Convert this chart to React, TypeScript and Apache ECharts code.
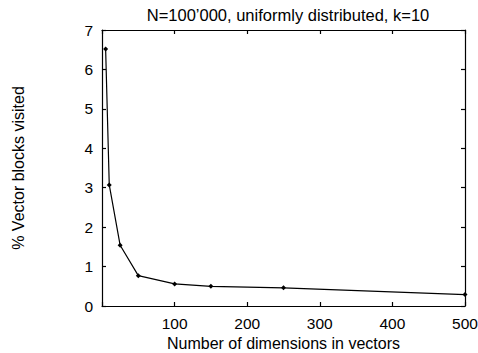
import React, { useEffect, useRef } from "react";
import * as echarts from "echarts";

const dimensions = [5, 10, 25, 50, 100, 150, 250, 500];
const percentVisited = [6.52, 3.07, 1.54, 0.77, 0.56, 0.5, 0.46, 0.29];
const titleText = "N=100\u2019000, uniformly distributed, k=10";
const xName = "Number of dimensions in vectors";
const yName = "% Vector blocks visited";

export default function App() {
  const ref = useRef<HTMLDivElement>(null);
  useEffect(() => {
    if (!ref.current) return;
    const chart = echarts.init(ref.current, null, { renderer: "svg" });
    const font = "Liberation Sans, Arial, Helvetica, sans-serif";
    const lineStyle = { color: "#000", width: 1.2 };
    chart.setOption({
      animation: false,
      backgroundColor: "#fff",
      title: {
        text: titleText,
        left: 283,
        textAlign: "center",
        top: 1,
        textStyle: { fontFamily: font, fontSize: 16.5, fontWeight: "normal", color: "#000" },
      },
      grid: {
        left: 102,
        right: 13,
        top: 30,
        bottom: 47,
        show: false,
        containLabel: false,
        outerBoundsMode: "none",
      },
      xAxis: [
        {
          type: "value",
          min: 0,
          max: 500,
          interval: 100,
          position: "bottom",
          name: xName,
          nameLocation: "middle",
          nameGap: 26,
          nameTextStyle: { fontFamily: font, fontSize: 16, color: "#000" },
          axisLine: { show: true, onZero: false, lineStyle },
          axisTick: { show: true, inside: true, length: 4, lineStyle },
          axisLabel: {
            fontFamily: font,
            fontSize: 15.5,
            color: "#000",
            margin: 9,
            formatter: (v: number) => (v === 0 ? "" : String(v)),
          },
          splitLine: { show: false },
        },
        {
          type: "value",
          min: 0,
          max: 500,
          interval: 100,
          position: "top",
          axisLine: { show: true, onZero: false, lineStyle },
          axisTick: { show: true, inside: true, length: 4, lineStyle },
          axisLabel: { show: false },
          splitLine: { show: false },
        },
      ],
      yAxis: [
        {
          type: "value",
          min: 0,
          max: 7,
          interval: 1,
          position: "left",
          name: yName,
          nameLocation: "middle",
          nameGap: 76,
          nameTextStyle: { fontFamily: font, fontSize: 16, color: "#000" },
          axisLine: { show: true, onZero: false, lineStyle },
          axisTick: { show: true, inside: true, length: 4, lineStyle },
          axisLabel: { fontFamily: font, fontSize: 15.5, color: "#000", margin: 9 },
          splitLine: { show: false },
        },
        {
          type: "value",
          min: 0,
          max: 7,
          interval: 1,
          position: "right",
          axisLine: { show: true, onZero: false, lineStyle },
          axisTick: { show: true, inside: true, length: 4, lineStyle },
          axisLabel: { show: false },
          splitLine: { show: false },
        },
      ],
      series: [
        {
          type: "line",
          xAxisIndex: 0,
          yAxisIndex: 0,
          data: dimensions.map((d, i) => [d, percentVisited[i]]),
          symbol: "diamond",
          symbolSize: 5,
          itemStyle: { color: "#000" },
          lineStyle: { color: "#000", width: 1.2 },
        },
      ],
    });
    return () => chart.dispose();
  }, []);
  return <div ref={ref} style={{ width: 478, height: 353, position: "absolute", left: 0, top: 0 }} />;
}
